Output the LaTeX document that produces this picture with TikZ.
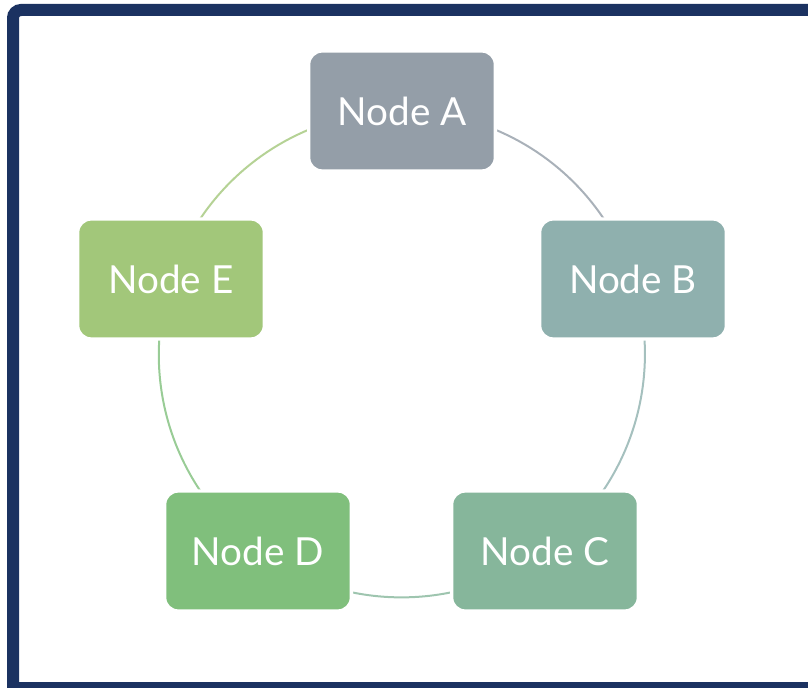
\documentclass[tikz,border=0pt]{standalone}
\usepackage{fontspec}
\setmainfont{Lato}
\usetikzlibrary{positioning}
\usetikzlibrary{backgrounds}
\definecolor{mframe}{HTML}{1B3261}
\definecolor{mnodeA}{HTML}{949EA8}
\definecolor{mnodeB}{HTML}{8FB0AE}
\definecolor{mnodeC}{HTML}{86B69B}
\definecolor{mnodeD}{HTML}{80BF7C}
\definecolor{mnodeE}{HTML}{A2C77A}
\tikzset{cyclebox/.style = {rectangle, rounded corners = 10pt, draw = white,
                            line width = 2.5pt, text = white,
                            minimum width = 140pt, minimum height = 90pt,
                            font = \fontsize{29}{32}\selectfont}}
\tikzset{cycleline/.style = {line width = 1.5pt, bend left = 36, looseness = 0.94}}

\begin{document}
\begin{tikzpicture}[x=0.75pt, y=-0.75pt]
    \useasboundingbox (0, 0) rectangle (808, 688);
    % frame
    \draw [mframe, line width = 9pt, rounded corners = 6pt] (13, 720) -- (13, 10) -- (840, 10);
    \draw [mframe, line width = 9pt] (7, 688) -- (840, 688);

    % nodes
    \node [cyclebox, fill=mnodeA] (A) at (402, 111) {Node A};
    \node [cyclebox, fill=mnodeB] (B) at (633, 279) {Node B};
    \node [cyclebox, fill=mnodeC] (C) at (545, 551) {Node C};
    \node [cyclebox, fill=mnodeD] (D) at (258, 551) {Node D};
    \node [cyclebox, fill=mnodeE] (E) at (171, 279) {Node E};

    % connectors, behind the nodes
    \begin{pgfonlayer}{background}
      \draw [cycleline, color=mnodeA!80] (A.center) to (B.center);
      \draw [cycleline, color=mnodeB!80] (B.center) to (C.center);
      \draw [cycleline, color=mnodeC!80] (C.center) to (D.center);
      \draw [cycleline, color=mnodeD!80] (D.center) to (E.center);
      \draw [cycleline, color=mnodeE!80] (E.center) to (A.center);
    \end{pgfonlayer}
  \end{tikzpicture}
\end{document}
